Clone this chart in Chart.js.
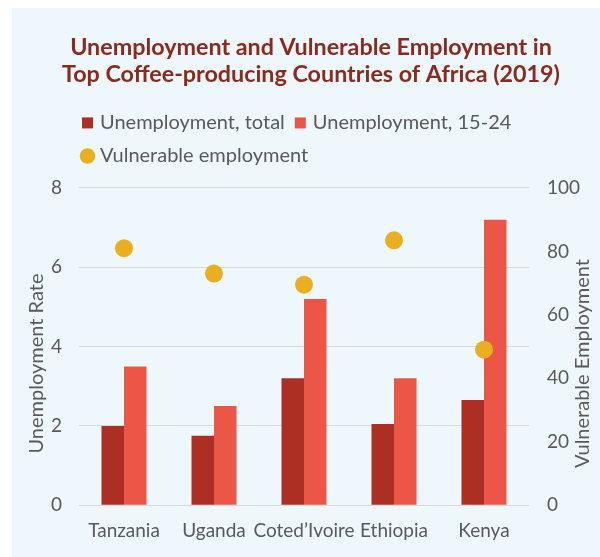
<!DOCTYPE html>
<html>
<head>
<meta charset="utf-8">
<script src="https://cdn.jsdelivr.net/npm/chart.js@4"></script>
<style>
  body { margin: 0; background: #ffffff; }
  #panel { position: absolute; left: 12px; top: 8px; width: 588px; height: 549px; background: #edf7fc; }
</style>
</head>
<body>
<div id="panel"><canvas id="comboChart"></canvas></div>
<script>
// Data
const countries = ["Tanzania", "Uganda", "Coted\u2019Ivoire", "Ethiopia", "Kenya"];
const unempTotal = [2.0, 1.75, 3.2, 2.05, 2.65];
const unempYouth = [3.5, 2.5, 5.2, 3.2, 7.2];
const vulnerable = [81, 73, 69.5, 83.5, 49];
const rateTicks = [0, 2, 4, 6, 8];
const vulnTicks = [0, 20, 40, 60, 80, 100];

const grey = "#595959";

// Legend starts under the plot like Excel, plus a bit of room below it
const legendOffset = {
  id: "legendOffset",
  beforeInit(chart) {
    const fit = chart.legend.fit;
    chart.legend.fit = function () {
      fit.bind(chart.legend)();
      this.height += 12;
    };
  },
  afterLayout(chart) {
    chart.legend.left = chart.chartArea.left + 6 - chart.options.plugins.legend.labels.padding;
  },
};

// Both axis titles read bottom-to-top
const axisTitles = {
  id: "axisTitles",
  afterDraw(chart) {
    const { ctx, chartArea, scales } = chart;
    const midY = (chartArea.top + chartArea.bottom) / 2 + 17;
    ctx.save();
    ctx.fillStyle = grey;
    ctx.font = "20px Lato";
    ctx.textAlign = "center";
    ctx.textBaseline = "middle";
    [[scales.y.left + 15, "Unemployment Rate"], [scales.y1.right - 17, "Vulnerable Employment"]].forEach(([x, txt]) => {
      ctx.save();
      ctx.translate(x, midY);
      ctx.rotate(-Math.PI / 2);
      ctx.fillText(txt, 0, 0);
      ctx.restore();
    });
    ctx.restore();
  },
};

const data = {
  labels: countries,
  datasets: [
    {
      type: "bar",
      label: "Unemployment, total",
      data: unempTotal,
      backgroundColor: "#ad2e23",
      pointStyle: "rect",
      yAxisID: "y",
      order: 1,
    },
    {
      type: "bar",
      label: "Unemployment, 15-24",
      data: unempYouth,
      backgroundColor: "#ec5646",
      pointStyle: "rect",
      yAxisID: "y",
      order: 1,
    },
    {
      type: "line",
      label: "Vulnerable employment",
      data: vulnerable,
      showLine: false,
      pointStyle: "circle",
      pointRadius: 9,
      pointBackgroundColor: "#eaaf21",
      pointBorderWidth: 0,
      backgroundColor: "#eaaf21",
      borderColor: "#eaaf21",
      yAxisID: "y1",
      order: 0,
    },
  ],
};

const config = {
  type: "bar",
  data: data,
  options: {
    responsive: true,
    maintainAspectRatio: false,
    animation: false,
    layout: { padding: { left: 10, right: 0, top: 0, bottom: 1 } },
    datasets: { bar: { categoryPercentage: 0.5, barPercentage: 1.0 } },
    plugins: {
      title: {
        display: true,
        text: ["Unemployment and Vulnerable Employment in", "Top Coffee-producing Countries of Africa (2019)"],
        color: "#8c2a1e",
        font: { family: "Lato", size: 23.3, weight: "bold", lineHeight: 1.2 },
        padding: { top: 25, bottom: 11 },
      },
      legend: {
        position: "top",
        align: "start",
        labels: {
          usePointStyle: true,
          boxWidth: 5,
          boxHeight: 11,
          padding: 13,
          color: grey,
          font: { family: "Lato", size: 20 },
          sort: (a, b) => a.datasetIndex - b.datasetIndex,
        },
      },
      tooltip: { enabled: false },
    },
    scales: {
      x: {
        grid: { display: false, drawTicks: false },
        border: { display: false },
        ticks: { color: grey, font: { family: "Lato", size: 19 }, padding: 14, maxRotation: 0, minRotation: 0, autoSkip: false },
      },
      y: {
        position: "left",
        min: rateTicks[0],
        max: rateTicks[rateTicks.length - 1],
        afterBuildTicks: (s) => { s.ticks = rateTicks.map((v) => ({ value: v })); },
        afterFit: (s) => { s.width = 57; },
        grid: { color: "#d9d9d9", drawTicks: false },
        border: { display: false },
        ticks: { color: grey, font: { family: "Lato", size: 19 }, padding: 17 },
      },
      y1: {
        position: "right",
        min: vulnTicks[0],
        max: vulnTicks[vulnTicks.length - 1],
        afterBuildTicks: (s) => { s.ticks = vulnTicks.map((v) => ({ value: v })); },
        afterFit: (s) => { s.width = 71; },
        grid: { drawOnChartArea: false, drawTicks: false },
        border: { display: false },
        ticks: { color: grey, font: { family: "Lato", size: 19 }, padding: 18 },
      },
    },
  },
  plugins: [legendOffset, axisTitles],
};

const myChart = new Chart(document.getElementById("comboChart"), config);
</script>
</body>
</html>
